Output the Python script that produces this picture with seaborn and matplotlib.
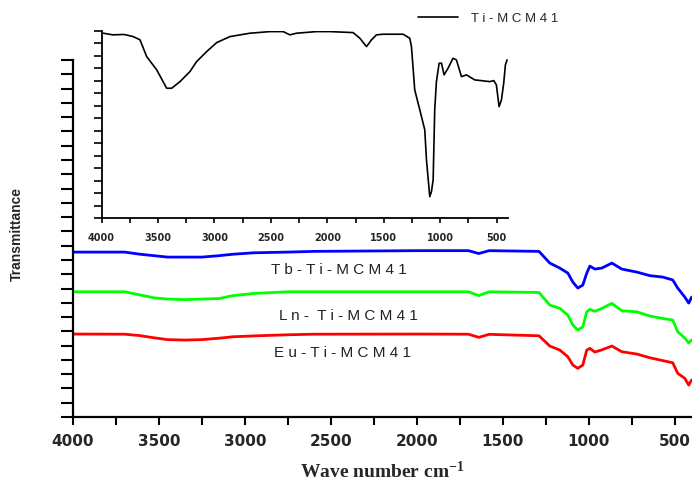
"""
FT-IR spectra of lanthanide-loaded Ti-MCM41 with an inset of the bare support.
"""

import matplotlib.pyplot as plt
import pandas as pd
import seaborn as sns
from matplotlib.ticker import MultipleLocator

# main panel: wavenumber grid shared by the three spectra (cm^-1)
wavenumber = [4000, 3700, 3610, 3530, 3450, 3350, 3250, 3150, 3070, 2950, 2750,
              2600, 2000, 1700, 1640, 1580, 1290, 1227, 1169, 1122, 1093, 1064,
              1035, 1012, 994, 965, 925, 866, 808, 721, 645, 570, 512, 483, 442,
              419, 402]

tb_values = [11.55, 11.55, 11.40, 11.30, 11.20, 11.20, 11.20, 11.30, 11.40, 11.50,
             11.55, 11.60, 11.65, 11.65, 11.45, 11.65, 11.60, 10.78, 10.43, 10.08,
             9.45, 9.03, 9.24, 10.08, 10.57, 10.36, 10.43, 10.78, 10.36, 10.15, 9.90,
             9.80, 9.60, 9.03, 8.40, 7.98, 8.40]

ln_values = [8.77, 8.77, 8.55, 8.35, 8.26, 8.22, 8.26, 8.30, 8.50, 8.65, 8.77,
             8.77, 8.77, 8.77, 8.50, 8.77, 8.72, 7.84, 7.61, 7.14, 6.44, 6.09,
             6.32, 7.37, 7.54, 7.40, 7.60, 7.96, 7.44, 7.37, 7.07, 6.90, 6.79,
             5.97, 5.53, 5.18, 5.40]

eu_values = [5.81, 5.80, 5.70, 5.55, 5.42, 5.39, 5.42, 5.52, 5.62, 5.68, 5.76,
             5.80, 5.81, 5.80, 5.58, 5.79, 5.69, 4.97, 4.69, 4.22, 3.64, 3.41,
             3.64, 4.69, 4.81, 4.55, 4.70, 4.97, 4.57, 4.41, 4.15, 3.95, 3.80,
             3.06, 2.71, 2.24, 2.60]

series_names = ["Tb -Ti-MCM 41", "Ln- Ti-MCM 41", "Eu-Ti-MCM41"]
series_labels = ["T b - T i - M C M 4 1", "L n -  T i - M C M 4 1", "E u - T i - M C M 4 1"]
series_colors = ["#0000ff", "#00ff00", "#ff0000"]

# inset: bare Ti-MCM41
inset_wavenumber = [3984, 3900, 3800, 3719, 3659, 3600, 3511, 3423, 3379, 3305, 3217,
                    3158, 3069, 2980, 2863, 2686, 2509, 2391, 2332, 2273, 2096, 1978,
                    1772, 1712, 1653, 1609, 1565, 1506, 1329, 1270, 1255, 1226, 1181,
                    1137, 1122, 1093, 1078, 1063, 1049, 1034, 1010, 989, 966, 931, 887,
                    857, 812, 768, 695, 562, 526, 503, 479, 458, 438, 423, 408]
inset_values = [14.80, 14.67, 14.70, 14.53, 14.27, 12.93, 11.87, 10.40, 10.40, 10.93,
                11.73, 12.53, 13.33, 14.05, 14.53, 14.80, 14.93, 14.93, 14.67, 14.80,
                14.93, 14.93, 14.85, 14.40, 13.73, 14.27, 14.67, 14.72, 14.72, 14.40,
                13.73, 10.27, 8.67, 7.07, 4.67, 1.73, 2.13, 3.07, 8.67, 10.93, 12.40,
                12.40, 11.47, 12.00, 12.80, 12.67, 11.33, 11.47, 11.07, 10.93, 11.01,
                10.67, 8.93, 9.47, 10.80, 12.27, 12.67]

sns.set_style("ticks")
plt.rcParams["font.family"] = ["DejaVu Sans"]
plt.rcParams["mathtext.default"] = "regular"

fig = plt.figure(figsize=(6.92, 4.83), dpi=100)
ax = fig.add_axes([0.1055, 0.1366, 0.8945, 0.7391])

for name, values, color in zip(series_names, [tb_values, ln_values, eu_values], series_colors):
    df = pd.DataFrame({"wavenumber": wavenumber, "value": values})
    sns.lineplot(data=df, x="wavenumber", y="value", color=color, linewidth=2.0,
                 estimator=None, sort=False, ax=ax)

ax.set_xlim(4000, 400)
ax.set_ylim(0, 25)
ax.xaxis.set_major_locator(MultipleLocator(500))
ax.xaxis.set_minor_locator(MultipleLocator(250))
ax.yaxis.set_major_locator(MultipleLocator(1))
ax.set_yticklabels([])
ax.tick_params(axis="y", which="major", direction="out", length=9, width=1.5, color="black")
ax.tick_params(axis="x", which="both", direction="out", length=6, width=1.5, color="black",
               pad=6, labelsize=11)
for lab in ax.get_xticklabels():
    lab.set_fontweight("bold")
sns.despine(ax=ax)
for side in ["left", "bottom"]:
    ax.spines[side].set_linewidth(1.6)
    ax.spines[side].set_color("black")

ax.set_xlabel("Wave number cm$^{-1}$", family=["Liberation Serif", "DejaVu Serif"],
              fontweight="bold", fontsize=14, va="baseline")
ax.xaxis.set_label_coords(0.5, -0.171)
ax.set_ylabel("Transmittance", family=["Liberation Sans", "DejaVu Sans"],
              fontweight="bold", fontsize=10)
ax.yaxis.set_label_coords(-0.079, 0.512)

# curve labels
label_pos = [(2453, 10.29), (2401, 7.07), (2430, 4.48)]
for text, (x, y) in zip(series_labels, label_pos):
    ax.text(x, y, text, ha="center", va="center", fontsize=11, color="#222222",
            family=["Liberation Sans", "DejaVu Sans"])

# inset
ax_in = fig.add_axes([0.1467, 0.548, 0.5874, 0.3884])
inset_df = pd.DataFrame({"wavenumber": inset_wavenumber, "value": inset_values})
sns.lineplot(data=inset_df, x="wavenumber", y="value", color="black", linewidth=1.2,
             estimator=None, sort=False, ax=ax_in, label="T i - M C M 4 1")
ax_in.set_xlim(4000, 400)
ax_in.set_ylim(0, 15)
ax_in.xaxis.set_major_locator(MultipleLocator(500))
ax_in.xaxis.set_minor_locator(MultipleLocator(250))
ax_in.yaxis.set_major_locator(MultipleLocator(1))
ax_in.set_yticklabels([])
ax_in.set_xlabel("")
ax_in.set_ylabel("")
ax_in.tick_params(axis="y", which="major", direction="out", length=6, width=1.2, color="black")
ax_in.tick_params(axis="x", which="both", direction="out", length=3.5, width=1.2, color="black",
                  pad=7, labelsize=7)
for lab in ax_in.get_xticklabels():
    lab.set_fontweight("bold")
sns.despine(ax=ax_in)
for side in ["left", "bottom"]:
    ax_in.spines[side].set_linewidth(1.3)
    ax_in.spines[side].set_color("black")

ax_in.legend(loc="center left", bbox_to_anchor=(0.604, 0.9607), bbox_transform=fig.transFigure,
             frameon=False, borderpad=0, borderaxespad=0, handlelength=3.0, handletextpad=1.0,
             prop={"family": ["Liberation Sans", "DejaVu Sans"], "size": 9.5})

fig.savefig("out.png", dpi=100)
